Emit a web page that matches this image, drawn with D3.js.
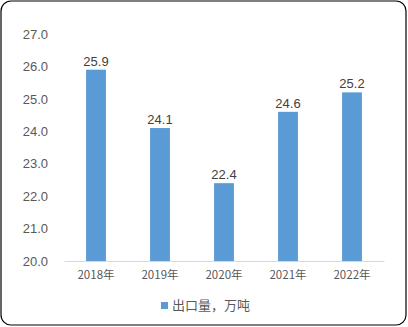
<!DOCTYPE html>
<html><head><meta charset="utf-8">
<script src="https://cdn.jsdelivr.net/npm/d3@7"></script>
<style>body{margin:0;background:#fff;}svg{display:block;}</style>
</head><body>
<svg id="c" width="408" height="327"></svg>
<script>
const categories = ["2018年","2019年","2020年","2021年","2022年"];
const values = [25.9, 24.1, 22.4, 24.6, 25.2];
const yTicks = [20,21,22,23,24,25,26,27];
const seriesName = "出口量，万吨";

const svg = d3.select("#c");
svg.append("rect").attr("x",1).attr("y",1).attr("width",405).attr("height",324)
  .attr("rx",10).attr("fill","#fff").attr("stroke","#000").attr("stroke-width",1.2);

const x = d3.scaleBand().domain(categories).range([64,384]).paddingInner(0.69).paddingOuter(0.345);
const y = d3.scaleLinear().domain([20,27]).range([261,34]);
const numFont = "'Liberation Sans', Arial, sans-serif";
const cjkFont = "'Noto Sans CJK SC', sans-serif";

const yAxis = svg.append("g").attr("transform","translate(64,0)")
  .call(d3.axisLeft(y).tickValues(yTicks).tickFormat(d3.format(".1f")).tickSize(0).tickPadding(16));
yAxis.select(".domain").remove();
yAxis.selectAll("text").attr("font-family",numFont).attr("font-size",13).attr("fill","#595959");

svg.selectAll("rect.bar").data(values).enter().append("rect").attr("class","bar")
  .attr("x",(d,i)=>x(categories[i])).attr("width",x.bandwidth())
  .attr("y",d=>y(d)).attr("height",d=>y(20)-y(d)).attr("fill","#5B9BD5");

const xAxis = svg.append("g").attr("transform","translate(0,261)")
  .call(d3.axisBottom(x).tickSize(0).tickPadding(10));
xAxis.select(".domain").attr("stroke","#D9D9D9");
xAxis.selectAll("text").attr("font-family",cjkFont).attr("font-size",11.5).attr("fill","#595959");

svg.selectAll("text.lbl").data(values).enter().append("text").attr("class","lbl")
  .attr("x",(d,i)=>x(categories[i])+x.bandwidth()/2).attr("y",d=>y(d)-4)
  .attr("text-anchor","middle").attr("font-family",numFont).attr("font-size",13).attr("fill","#404040")
  .text(d=>d3.format(".1f")(d));

const lg = svg.append("g");
lg.append("rect").attr("x",161).attr("y",302).attr("width",7).attr("height",7).attr("fill","#5B9BD5");
lg.append("text").attr("x",172).attr("y",310).attr("font-family",cjkFont).attr("font-size",13).attr("fill","#595959").text(seriesName);
</script>
</body></html>
